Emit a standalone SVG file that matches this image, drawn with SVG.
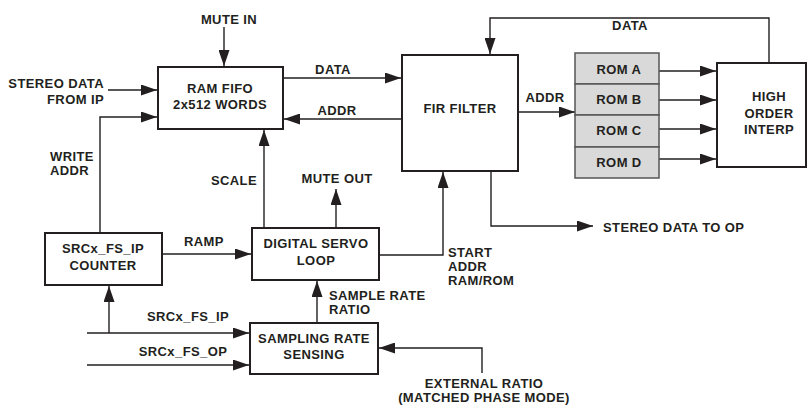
<svg xmlns="http://www.w3.org/2000/svg" width="810" height="405" viewBox="0 0 810 405">
<style>
text{font-family:"Liberation Sans",Arial,sans-serif;font-weight:bold;font-size:13px;letter-spacing:0.4px;fill:#231f20}
.c{text-anchor:middle}
.r{text-anchor:end}
.box{fill:#fff;stroke:#231f20;stroke-width:2}
.rom{fill:#d9d9d9;stroke:#555;stroke-width:1.5}
.ln{fill:none;stroke:#231f20;stroke-width:1.4}
.ar{marker-end:url(#ah)}
</style>
<defs>
<marker id="ah" markerUnits="userSpaceOnUse" markerWidth="16" markerHeight="11" refX="16" refY="5.5" orient="auto">
<path d="M0,0 L16,5.5 L0,11 z" fill="#231f20"/>
</marker>
</defs>
<rect width="810" height="405" fill="#fff"/>
<g id="connectors">
<path class="ln ar" d="M224,27 V66"/>
<path class="ln ar" d="M108,90 H157"/>
<path class="ln ar" d="M100,233 V117 H157"/>
<path class="ln ar" d="M283,78 H401"/>
<path class="ln ar" d="M402,119 H284"/>
<path class="ln ar" d="M769,63 V18 H490 V54"/>
<path class="ln ar" d="M518,112 H575"/>
<path class="ln ar" d="M659,71 H716"/>
<path class="ln ar" d="M659,100 H716"/>
<path class="ln ar" d="M659,129 H716"/>
<path class="ln ar" d="M659,159 H716"/>
<path class="ln ar" d="M162,254 H251"/>
<path class="ln ar" d="M264,228 V130"/>
<path class="ln ar" d="M336,228 V189"/>
<path class="ln ar" d="M379,255 H443 V172"/>
<path class="ln ar" d="M491,171 V226 H593"/>
<path class="ln ar" d="M109,333 V286"/>
<path class="ln ar" d="M87,333 H249"/>
<path class="ln ar" d="M87,365 H249"/>
<path class="ln ar" d="M317,323 V281"/>
<path class="ln ar" d="M482,373 V348 H379"/>
</g>
<g id="labels">
<text class="c" x="229" y="24">MUTE IN</text>
<text class="r" x="104" y="88">STEREO DATA</text>
<text class="r" x="104" y="104">FROM IP</text>
<text x="50" y="161">WRITE</text>
<text x="50" y="175">ADDR</text>
<text class="c" x="333" y="74">DATA</text>
<text class="c" x="337" y="115">ADDR</text>
<text class="c" x="630" y="30">DATA</text>
<text class="c" x="545" y="102">ADDR</text>
<text class="c" x="204" y="246">RAMP</text>
<text class="r" x="257" y="185">SCALE</text>
<text class="c" x="337" y="183">MUTE OUT</text>
<text x="448" y="257">START</text>
<text x="448" y="271">ADDR</text>
<text x="448" y="285">RAM/ROM</text>
<text x="603" y="232">STEREO DATA TO OP</text>
<text class="c" x="188" y="321">SRCx_FS_IP</text>
<text class="c" x="183" y="356">SRCx_FS_OP</text>
<text x="329" y="300">SAMPLE RATE</text>
<text x="329" y="314">RATIO</text>
<text class="c" x="484" y="388">EXTERNAL RATIO</text>
<text class="c" x="484" y="402">(MATCHED PHASE MODE)</text>
</g>
<g id="ram_fifo">
<rect class="box" x="158" y="67" width="125" height="62"/>
<text class="c" x="220" y="93">RAM FIFO</text>
<text class="c" x="220" y="109">2x512 WORDS</text>
</g>
<g id="fir_filter">
<rect class="box" x="402" y="55" width="116" height="116"/>
<text class="c" x="460" y="113">FIR FILTER</text>
</g>
<g id="rom_a">
<rect class="rom" x="575" y="53" width="84" height="31"/>
<text class="c" x="619" y="74">ROM A</text>
</g>
<g id="rom_b">
<rect class="rom" x="575" y="84" width="84" height="31"/>
<text class="c" x="619" y="104">ROM B</text>
</g>
<g id="rom_c">
<rect class="rom" x="575" y="115" width="84" height="32"/>
<text class="c" x="619" y="135">ROM C</text>
</g>
<g id="rom_d">
<rect class="rom" x="575" y="147" width="84" height="31"/>
<text class="c" x="619" y="167">ROM D</text>
</g>
<g id="high_order_interp">
<rect class="box" x="717" y="63" width="89" height="104"/>
<text class="c" x="769" y="101">HIGH</text>
<text class="c" x="769" y="118">ORDER</text>
<text class="c" x="769" y="134">INTERP</text>
</g>
<g id="counter">
<rect class="box" x="45" y="233" width="117" height="52"/>
<text class="c" x="103" y="253">SRCx_FS_IP</text>
<text class="c" x="103" y="270">COUNTER</text>
</g>
<g id="servo">
<rect class="box" x="252" y="228" width="127" height="52"/>
<text class="c" x="316" y="248">DIGITAL SERVO</text>
<text class="c" x="316" y="265">LOOP</text>
</g>
<g id="sensing">
<rect class="box" x="250" y="323" width="128" height="51"/>
<text class="c" x="314" y="343">SAMPLING RATE</text>
<text class="c" x="314" y="359">SENSING</text>
</g>
</svg>
